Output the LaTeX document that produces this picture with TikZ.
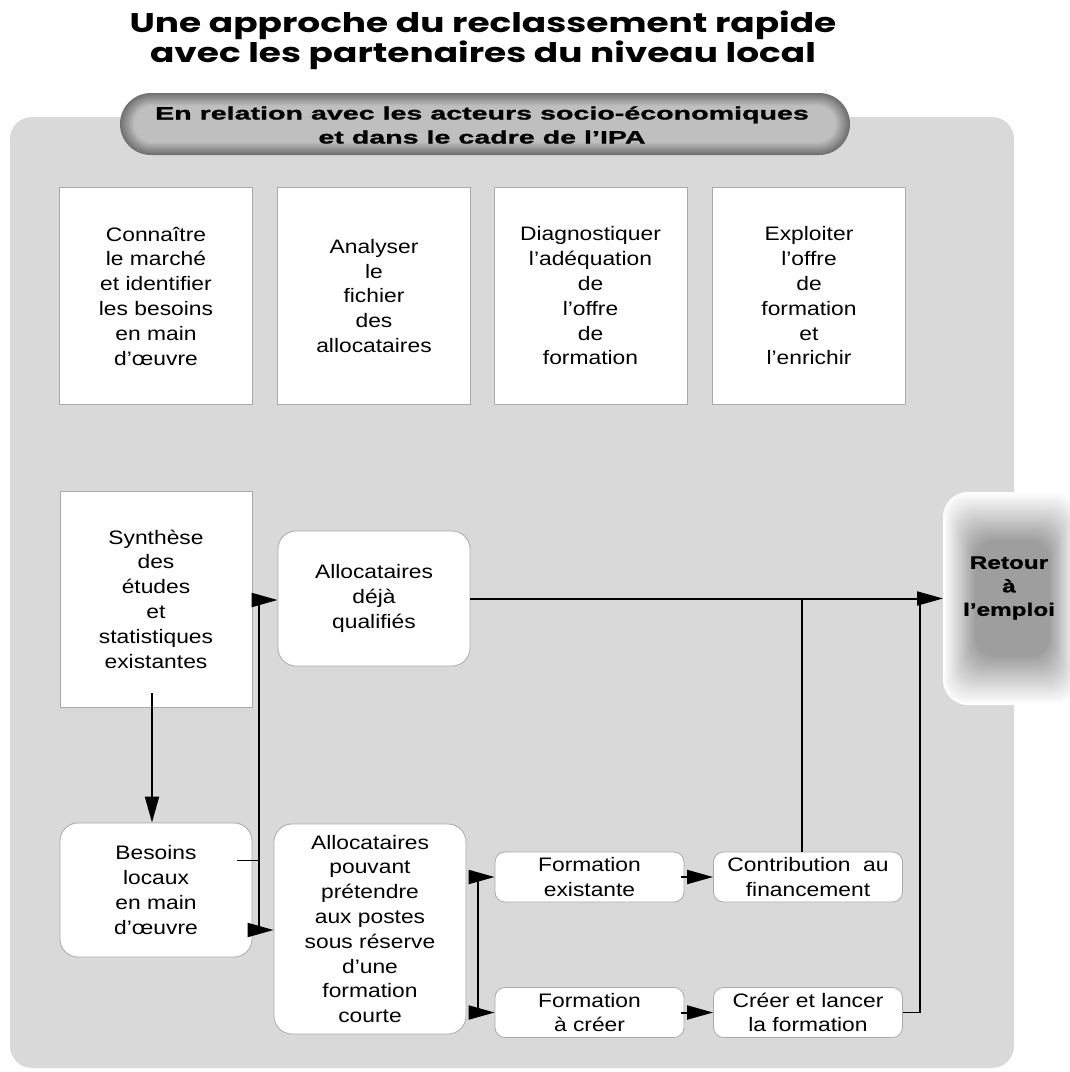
\documentclass[tikz,border=0pt]{standalone}
\usepackage{fontspec}
\setmainfont{Liberation Sans}
\newfontfamily\boxfont[FakeStretch=1.17]{Liberation Sans}
\newfontfamily\headfont[FakeStretch=1.59,FakeBold=1.2]{Liberation Sans}
\newfontfamily\retourfont[FakeStretch=1.35,FakeBold=1.2]{Liberation Sans}
\newfontfamily\titlefont[FakeStretch=1.33]{Poppins}
\usetikzlibrary{arrows.meta}
\definecolor{bggray}{RGB}{217,217,217}
\definecolor{rimgray}{RGB}{170,170,170}

\begin{document}
\begin{tikzpicture}[
    x=1pt, y=-1pt,
    every node/.style={inner sep=0pt, align=center},
    txt/.style={font={\boxfont\fontsize{19.5}{24.8}\selectfont}},
    sqbox/.style={txt, draw=rimgray, line width=0.8pt, fill=white},
    rndbox/.style={sqbox, rounded corners=18pt},
    smallbox/.style={sqbox, rounded corners=10pt, minimum width=189pt, minimum height=50pt},
    conn/.style={line width=2pt},
    arr/.style={conn, -{Triangle[length=26pt,width=14pt]}},
    stub/.style={line width=1pt}
  ]
  \useasboundingbox (0,0) rectangle (1070,1072);

  % fond
  \fill[bggray, rounded corners=22pt] (10,117) rectangle (1014,1068);

  % titre
  \node[font={\titlefont\bfseries\fontsize{27}{30}\selectfont}] (title) at (483,40)
    {Une approche du reclassement rapide\\avec les partenaires du niveau local};

  % bandeau
  \foreach \k [evaluate=\k as \c using 56-2.2*\k,
               evaluate=\k as \r using 31-0.9*\k] in {0,...,14}
    \fill[black!\c, rounded corners=\r pt] (120+\k,93+0.9*\k) rectangle (850-\k,155-0.9*\k);
  \node[font={\headfont\bfseries\fontsize{18}{24}\selectfont}] (head) at (482,125)
    {En relation avec les acteurs socio-économiques\\et dans le cadre de l’IPA};

  % quatre etapes
  \node[sqbox, minimum width=193pt, minimum height=217pt] (marche) at (156,296)
    {Connaître\\le marché\\et identifier\\les besoins\\en main\\d’œuvre};
  \node[sqbox, minimum width=193pt, minimum height=217pt] (fichier) at (374,296)
    {Analyser\\le\\fichier\\des\\allocataires};
  \node[sqbox, minimum width=193pt, minimum height=217pt] (diagnostic) at (590.5,296)
    {Diagnostiquer\\l’adéquation\\de\\l’offre\\de\\formation};
  \node[sqbox, minimum width=193pt, minimum height=217pt] (offre) at (809,296)
    {Exploiter\\l’offre\\de\\formation\\et\\l’enrichir};

  % parcours
  \node[sqbox, minimum width=192pt, minimum height=216pt] (synthese) at (156,599)
    {Synthèse\\des\\études\\et\\statistiques\\existantes};
  \node[rndbox, minimum width=192pt, minimum height=135pt] (deja) at (374,598.5)
    {Allocataires\\déjà\\qualifiés};
  \node[rndbox, minimum width=192pt, minimum height=134pt] (besoins) at (156,890)
    {Besoins\\locaux\\en main\\d’œuvre};
  \node[rndbox, minimum width=192pt, minimum height=210pt] (pouvant) at (370,929)
    {Allocataires\\pouvant\\prétendre\\aux postes\\sous réserve\\d’une\\formation\\courte};
  \node[smallbox] (fexist) at (589.5,877) {Formation\\existante};
  \node[smallbox] (contrib) at (808,877) {Contribution\ \ au\\financement};
  \node[smallbox] (fcreer) at (589.5,1012.5) {Formation\\à créer};
  \node[smallbox] (lancer) at (808,1012.5) {Créer et lancer\\la formation};

  % retour a l'emploi
  \fill[white, rounded corners=25pt] (943,492) rectangle (1078,705);
  \foreach \k [evaluate=\k as \c using 1.9*\k] in {1,...,20}
    \fill[black!\c, rounded corners=20pt] (943+1.6*\k,492+2.4*\k) rectangle (1078-1.4*\k,705-2.4*\k);
  \node[font={\retourfont\bfseries\fontsize{18}{23.5}\selectfont}] (retour) at (1009,588)
    {Retour\\à\\l’emploi};
  \coordinate (retourIn) at (943,598.5);

  % liaisons
  \coordinate (busL1) at (259,600);
  \coordinate (busL2) at (259,930);
  \coordinate (busM1) at (478,877);
  \coordinate (busM2) at (478,1012.5);
  \coordinate (busR) at (920,598.5);
  \coordinate (besoinsOut) at (237,860);

  \draw[arr] ([xshift=-4pt,yshift=14pt]synthese.south) -- ([xshift=-4pt]besoins.north);
  \draw[conn] (busL1) -- (busL2);
  \draw[stub] (besoinsOut) -- (besoinsOut -| busL1);
  \draw[arr] (busL1) -- (busL1 -| deja.west);
  \draw[arr] (busL2) -- (busL2 -| pouvant.west);
  \draw[arr] (deja.east) -- (retourIn);
  \draw[conn] ([xshift=-6pt]contrib.north) -- ([xshift=-6pt]contrib.north |- deja.east);
  \draw[conn] (busR) -- (busR |- lancer.east);
  \draw[stub] (lancer.east) -- (lancer.east -| busR);
  \draw[conn] ([yshift=-3pt]busM1) -- (busM2);
  \draw[arr] (busM1) -- (fexist.west);
  \draw[arr] (busM2) -- (fcreer.west);
  \draw[arr] ([xshift=-3pt]fexist.east) -- (contrib.west);
  \draw[arr] ([xshift=-3pt]fcreer.east) -- (lancer.west);
\end{tikzpicture}
\end{document}
